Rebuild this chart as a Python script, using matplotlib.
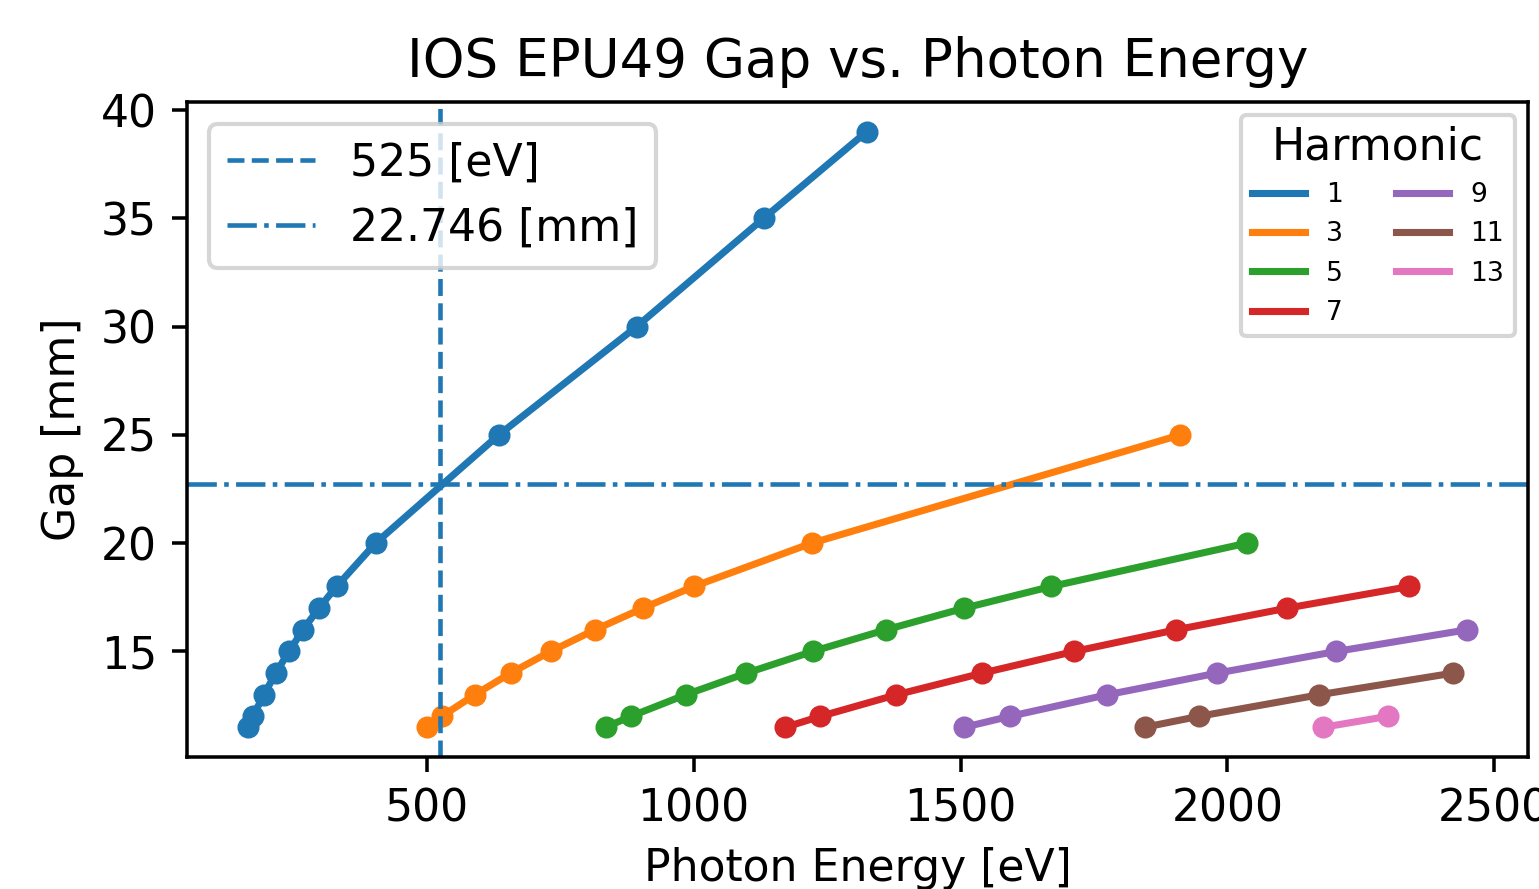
import matplotlib
matplotlib.use("Agg")
import matplotlib.pyplot as plt

harmonics = [1, 3, 5, 7, 9, 11, 13]

energy_h1 = [165, 174, 195, 217, 242, 268, 298, 331, 404, 635, 893, 1131, 1324]
gap_h1 = [11.5, 12, 13, 14, 15, 16, 17, 18, 20, 25, 30, 35, 39]

energy_h3 = [500, 528, 590, 657, 732, 815, 905, 1000, 1221, 1912]
gap_h3 = [11.5, 12, 13, 14, 15, 16, 17, 18, 20, 25]

energy_h5 = [835, 882, 985, 1099, 1223, 1360, 1507, 1670, 2036]
gap_h5 = [11.5, 12, 13, 14, 15, 16, 17, 18, 20]

energy_h7 = [1172, 1237, 1380, 1541, 1713, 1904, 2112, 2341]
gap_h7 = [11.5, 12, 13, 14, 15, 16, 17, 18]

energy_h9 = [1507, 1592, 1775, 1981, 2204, 2449]
gap_h9 = [11.5, 12, 13, 14, 15, 16]

energy_h11 = [1845, 1946, 2172, 2423]
gap_h11 = [11.5, 12, 13, 14]

energy_h13 = [2180, 2300]
gap_h13 = [11.5, 12]

energies = [energy_h1, energy_h3, energy_h5, energy_h7, energy_h9, energy_h11, energy_h13]
gaps = [gap_h1, gap_h3, gap_h5, gap_h7, gap_h9, gap_h11, gap_h13]

target_energy = 525
target_gap = 22.746

colors = ['tab:blue', 'tab:orange', 'tab:green', 'tab:red', 'tab:purple', 'tab:brown', 'tab:pink']

s = 1.06
fig = plt.figure(figsize=(1539 / 300, 889 / 300), dpi=300)
ax = fig.add_axes([187 / 1539, 1 - 757 / 889, (1528 - 187) / 1539, (757 - 102) / 889])

line_handles = []
for h, e, g, c in zip(harmonics, energies, gaps, colors):
    ln, = ax.plot(e, g, '-', color=c, lw=1.7, label=str(h))
    ax.plot(e, g, 'o', color=c, ms=4.3)
    line_handles.append(ln)

v = ax.axvline(target_energy, color='tab:blue', ls='--', lw=1.1, label=f'{target_energy} [eV]')
hl = ax.axhline(target_gap, color='tab:blue', ls='-.', lw=1.1, label=f'{target_gap} [mm]')

leg1 = ax.legend(handles=[v, hl], loc='upper left', fontsize=10 * s)
ax.add_artist(leg1)
ax.legend(handles=line_handles, title='Harmonic', ncol=2, fontsize=6 * s,
          title_fontsize=10 * s, loc='upper right')

ax.set_title('IOS EPU49 Gap vs. Photon Energy', fontsize=12 * s)
ax.set_xlabel('Photon Energy [eV]', fontsize=10 * s)
ax.set_ylabel('Gap [mm]', fontsize=10 * s)
ax.set_xticks([500, 1000, 1500, 2000, 2500])
ax.set_yticks([15, 20, 25, 30, 35, 40])
ax.tick_params(labelsize=10 * s, length=3.5 * s, width=0.8 * s)
for sp in ax.spines.values():
    sp.set_linewidth(0.8 * s)

fig.savefig('out.png', dpi=300)
